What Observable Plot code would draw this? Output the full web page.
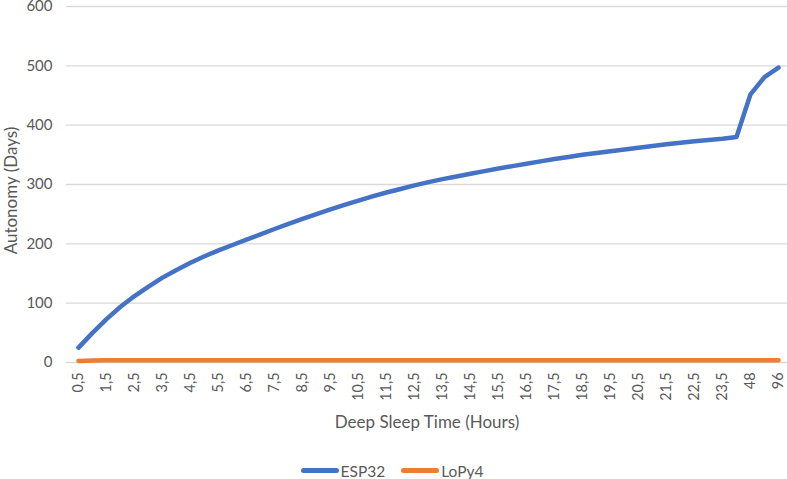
<!DOCTYPE html>
<html><head><meta charset="utf-8">
<script src="https://cdn.jsdelivr.net/npm/d3@7"></script>
<script src="https://cdn.jsdelivr.net/npm/@observablehq/plot@0.6"></script>
<style>
html,body{margin:0;padding:0;background:#fff;}
body{width:787px;height:479px;overflow:hidden;font-family:Lato,sans-serif;}
#legend{display:flex;justify-content:center;align-items:center;height:27px;padding-top:5px;gap:16px;color:#595959;font-size:15.5px;padding-right:3px}
.item{display:flex;align-items:center}
.sw{display:inline-block;width:38px;height:4.5px;border-radius:3px;margin-right:2px}
</style></head><body>
<div id="chart"></div>
<div id="legend"></div>
<script>
const categories = ["0,5","1","1,5","2","2,5","3","3,5","4","4,5","5","5,5","6","6,5","7","7,5","8","8,5","9","9,5","10","10,5","11","11,5","12","12,5","13","13,5","14","14,5","15","15,5","16","16,5","17","17,5","18","18,5","19","19,5","20","20,5","21","21,5","22","22,5","23","23,5","24","48","72","96"];
const tickLabels = ["0,5","1,5","2,5","3,5","4,5","5,5","6,5","7,5","8,5","9,5","10,5","11,5","12,5","13,5","14,5","15,5","16,5","17,5","18,5","19,5","20,5","21,5","22,5","23,5","48","96"];
const esp32 = [25,50,73,94,112,128,143,156,168,179,189,198,207,216,225,233.5,242,250,258,265.5,273,280,286.5,292.5,298.5,304,309,313.5,318,322.5,327,331,335,339,343,346.5,350,353,356,359,362,365,368,370.5,373,375,377,380,452,481,497];
const lopy4 = [2.5,3.5,4,4,4,4,4,4,4,4,4,4,4,4,4,4,4,4,4,4,4,4,4,4,4,4,4,4,4,4,4,4,4,4,4,4,4,4,4,4,4,4,4,4,4,4,4,4,4,4,4];
const yTicks = [0,100,200,300,400,500,600];
const seriesNames = ["ESP32","LoPy4"];
const seriesColors = ["#4472C4","#ED7D31"];
const xTitle = "Deep Sleep Time (Hours)";
const yTitle = "Autonomy (Days)";

const rows = [];
categories.forEach((c,i)=>rows.push({cat:c, value:esp32[i], series:"ESP32"}));
categories.forEach((c,i)=>rows.push({cat:c, value:lopy4[i], series:"LoPy4"}));

const chart = Plot.plot({
  width:787, height:452, marginTop:6, marginBottom:90, marginLeft:66, marginRight:0,
  style:{fontFamily:"Lato, sans-serif", background:"#fff", color:"#595959", overflow:"visible"},
  x:{type:"point", domain:categories, padding:0.5, insetLeft:2},
  y:{domain:[0,600]},
  color:{domain:seriesNames, range:seriesColors},
  marks:[
    Plot.gridY({ticks:yTicks, stroke:"#d9d9d9", strokeOpacity:1, strokeWidth:1.3}),
    Plot.axisY({ticks:yTicks, tickSize:0, tickPadding:14, fontSize:15, label:null, fill:"#595959"}),
    Plot.axisX({ticks:tickLabels, tickSize:0, tickPadding:10, tickRotate:-90, fontSize:14.4, label:null, fill:"#595959"}),
    Plot.lineY(rows, {x:"cat", y:"value", stroke:"series", z:"series", strokeWidth:4.5, strokeLinecap:"round", strokeLinejoin:"round"}),
    Plot.text([xTitle], {frameAnchor:"bottom", lineAnchor:"middle", textAnchor:"middle", dy:60, text:d=>d, fontSize:17, fill:"#595959"}),
    Plot.text([yTitle], {frameAnchor:"left", lineAnchor:"middle", textAnchor:"middle", dx:-55, dy:6, rotate:-90, text:d=>d, fontSize:17, fill:"#595959"})
  ]
});
document.getElementById("chart").appendChild(chart);

const legend = document.getElementById("legend");
seriesNames.forEach((n,i)=>{
  const it = document.createElement("div"); it.className="item";
  const sw = document.createElement("span"); sw.className="sw"; sw.style.background=seriesColors[i];
  const tx = document.createElement("span"); tx.textContent=n;
  it.appendChild(sw); it.appendChild(tx); legend.appendChild(it);
});
</script>
</body></html>
